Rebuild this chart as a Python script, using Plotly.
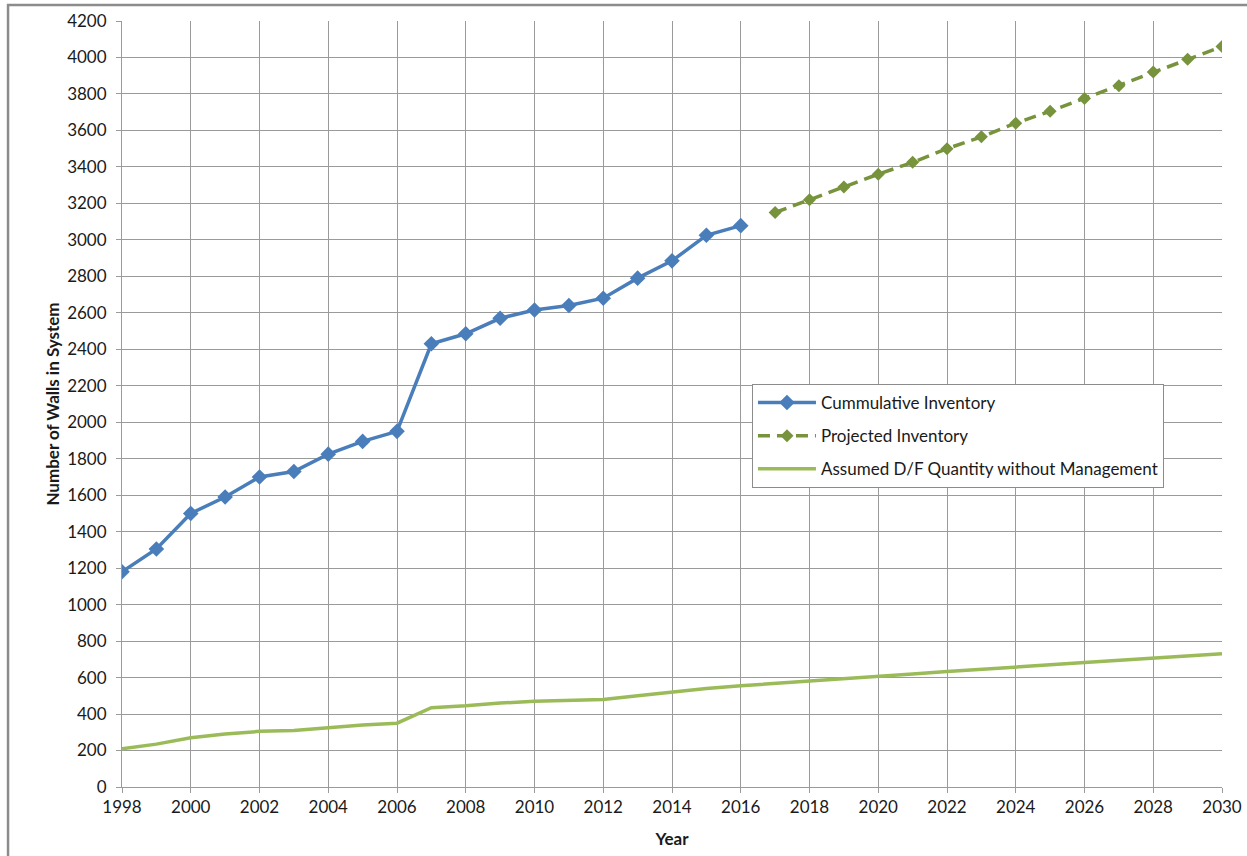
import plotly.graph_objects as go

# Wall inventory history, projection and the assumed D/F share
years_hist = list(range(1998, 2017))
cumulative = [1180, 1305, 1500, 1590, 1700, 1730, 1825, 1895, 1950, 2430,
              2485, 2570, 2615, 2640, 2680, 2790, 2885, 3025, 3078]

years_proj = list(range(2017, 2031))
projected = [3150, 3220, 3290, 3360, 3425, 3500, 3565, 3640, 3705, 3775,
             3845, 3920, 3990, 4060]

years_df = list(range(1998, 2031))
df_quantity = [210, 235, 270, 290, 305, 310, 325, 340, 350, 435,
               445, 460, 470, 475, 480, 500, 520, 540, 555, 567,
               580, 593, 604, 619, 633, 644, 659, 670, 683, 695,
               706, 719, 730]

x_ticks = list(range(1998, 2031, 2))
y_ticks = list(range(0, 4201, 200))

FONT = "Lato"
FS = 17
GRID = "#9a9a9a"

fig = go.Figure()

fig.add_trace(go.Scatter(
    x=years_hist, y=cumulative, name="Cummulative Inventory",
    mode="lines+markers", legendgroup="a",
    line=dict(color="#4A7EBB", width=3.5),
    marker=dict(symbol="diamond", size=12, color="#4A7EBB"),
))
fig.add_trace(go.Scatter(
    x=years_proj, y=projected, name="Projected Inventory",
    mode="lines+markers", legendgroup="b",
    line=dict(color="#77933C", width=3.5, dash="12px,7px"),
    marker=dict(symbol="diamond", size=10, color="#77933C"),
))
fig.add_trace(go.Scatter(
    x=years_df, y=df_quantity, name="Assumed D/F Quantity without Management",
    mode="lines", legendgroup="c",
    line=dict(color="#9BBB59", width=3.5),
))

# outer chart frame (top and left edges fall inside the page)
fig.add_shape(type="rect", xref="paper", yref="paper",
              x0=-0.1036, x1=1.2, y0=-0.3, y1=1.0209,
              line=dict(color="#8c8c8c", width=2.5), layer="below")

fig.update_layout(
    width=1247, height=856,
    margin=dict(l=122, r=25, t=21, b=69, autoexpand=False),
    paper_bgcolor="white", plot_bgcolor="white",
    font=dict(family=FONT, size=FS, color="#1a1a1a"),
    showlegend=True,
    legend=dict(
        x=0.5727, y=0.5261, xanchor="left", yanchor="top",
        bgcolor="white", bordercolor="#8c8c8c", borderwidth=1,
        traceorder="grouped", tracegroupgap=8,
        font=dict(family=FONT, size=FS, color="#1a1a1a"),
        itemwidth=58,
    ),
    xaxis=dict(
        range=[1998, 2030], tickvals=x_ticks, ticktext=[str(v) for v in x_ticks],
        showgrid=True, gridcolor=GRID, gridwidth=1,
        showline=True, linecolor=GRID, linewidth=1,
        ticks="outside", ticklen=5, tickcolor=GRID,
        zeroline=False, automargin=False,
        title=dict(text="<b>Year</b>", font=dict(family=FONT, size=FS), standoff=16),
    ),
    yaxis=dict(
        range=[0, 4200], tickvals=y_ticks, ticktext=[str(v) for v in y_ticks],
        showgrid=True, gridcolor=GRID, gridwidth=1,
        showline=True, linecolor=GRID, linewidth=1,
        ticks="outside", ticklen=5, tickcolor=GRID, ticklabelstandoff=6,
        zeroline=False, automargin=False,
        title=dict(text="<b>Number of Walls in System</b>", font=dict(family=FONT, size=FS), standoff=3),
    ),
)

fig.write_html("out.html")
